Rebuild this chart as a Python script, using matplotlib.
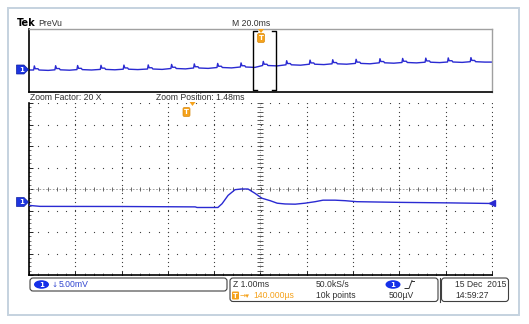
import numpy as np
import matplotlib
matplotlib.use('Agg')
import matplotlib.pyplot as plt
from matplotlib.patches import Rectangle, FancyBboxPatch, Ellipse, Polygon

W, H = 529, 324

# zoomed window : 1.00 ms/div, 5.00 mV/div, values in mV above the ch1 ground
zoom_t = [-5.0, -4.76, -3.03, -1.41, -1.37, -0.92, -0.83, -0.70, -0.55, -0.42,
          -0.27, -0.12, 0.03, 0.21, 0.36, 0.53, 0.75, 0.96, 1.18, 1.35,
          1.61, 1.83, 2.08, 3.01, 4.09, 5.0]
zoom_mv = [-0.86, -1.09, -1.12, -1.21, -1.35, -1.35, -0.47, 1.47, 2.79, 2.95,
           2.95, 1.95, 0.81, 0.23, -0.35, -0.53, -0.58, -0.35, 0.0, 0.35,
           0.35, 0.23, 0.0, -0.16, -0.28, -0.42]
zoom_gnd_div = -0.59   # ch1 ground marker, divisions from centre

# preview record : 20.0 ms/div over 200 ms, mV from screen centre
prevu_spike_t = [2.3, 11.5, 21.0, 31.1, 41.0, 51.5, 61.6, 71.4, 81.5, 91.6,
                 101.2, 111.3, 121.4, 131.2, 141.3, 151.6, 161.4, 171.4, 181.1, 190.9]
prevu_base_mv = [-6.03, -5.91, -5.78, -5.65, -5.52, -5.40, -5.08, -4.76, -4.45, -4.13,
                 -3.18, -2.73, -2.35, -2.10, -1.84, -1.46, -1.27, -1.08, -0.95, -0.76]
# shape of one mains pulse (ms, mV)
pulse_dt = [-0.3, 0.0, 0.4, 1.6, 2.0, 6.0]
pulse_dv = [0.0, 2.6, 0.8, 0.8, 0.0, -0.25]

BLUE = '#2a2ad2'
ORANGE = '#f5a21b'
TXT = '#303030'
FONT = 'Liberation Sans'
FS = 6.2


def px_axes(fig, x0, y0, x1, y1):
    return fig.add_axes([x0 / W, 1 - y1 / H, (x1 - x0) / W, (y1 - y0) / H])


fig = plt.figure(figsize=(W / 100, H / 100), dpi=100)
fig.patch.set_facecolor('white')

# ---- preview panel
axp = px_axes(fig, 29, 29, 492, 92)
pt, pv = [0.0], [prevu_base_mv[0]]
for ts, b in zip(prevu_spike_t, prevu_base_mv):
    pt += [ts + d for d in pulse_dt]
    pv += [b + d for d in pulse_dv]
pt.append(200.0)
pv.append(prevu_base_mv[-1] - 0.25)
axp.plot(pt, pv, color=BLUE, lw=1.0)
axp.set_xlim(0, 200)
axp.set_ylim(-20, 20)
axp.set_xticks([])
axp.set_yticks([])
for s in ['left', 'bottom']:
    axp.spines[s].set_color('black')
    axp.spines[s].set_linewidth(1.2)
for s in ['top', 'right']:
    axp.spines[s].set_color('#a0a0a0')
    axp.spines[s].set_linewidth(1.0)

# ---- main graticule (division units)
axg = px_axes(fig, 29, 103, 492, 275)
axg.set_xlim(-5, 5)
axg.set_ylim(-4, 4)
xs = np.arange(-5, 5.01, 0.2)
ys = np.arange(-4, 4.01, 0.2)
for j in range(-4, 5):
    if j != 0:
        axg.plot(xs, np.full_like(xs, j), ls='none', marker='s', ms=0.8,
                 color='#404040', mec='none')
for i in range(-5, 6):
    if i != 0:
        axg.plot(np.full_like(ys, i), ys, ls='none', marker='s', ms=0.8,
                 color='#404040', mec='none')
axg.axhline(0, color='#909090', lw=0.6, ls=(0, (2, 2)))
axg.plot(xs, np.zeros_like(xs), ls='none', marker='|', ms=3, mew=0.6, color='#505050')
axg.axvline(0, color='#909090', lw=0.6, ls=(0, (1, 2)))
axg.plot(np.zeros_like(ys), ys, ls='none', marker='_', ms=4, mew=0.6, color='#404040')
axg.set_xticks(range(-5, 6))
axg.set_yticks(range(-4, 5))
axg.set_xticks(xs, minor=True)
axg.set_yticks(ys, minor=True)
axg.tick_params(which='major', direction='in', length=3, width=0.6,
                labelbottom=False, labelleft=False, color='black')
axg.tick_params(which='minor', direction='in', length=1.5, width=0.5, color='#404040')
for s in ['top', 'right']:
    axg.spines[s].set_visible(False)
for s in ['left', 'bottom']:
    axg.spines[s].set_linewidth(1.2)

# ---- main trace (ms, mV)
axm = px_axes(fig, 29, 103, 492, 275)
axm.patch.set_alpha(0)
yc = -zoom_gnd_div * 5
axm.set_xlim(-5, 5)
axm.set_ylim(yc - 20, yc + 20)
axm.axis('off')
axm.plot(zoom_t, zoom_mv, color=BLUE, lw=1.0)
axm.plot(zoom_t[-1], zoom_mv[-1], marker='<', ms=4, color=BLUE, clip_on=False)

# ---- overlay in pixels for the scope chrome
ov = fig.add_axes([0, 0, 1, 1])
ov.set_xlim(0, W)
ov.set_ylim(H, 0)
ov.axis('off')
ov.patch.set_alpha(0)

ov.add_patch(Rectangle((8, 8), 511, 307, fill=False, ec='#c5d2df', lw=1.4))

ov.text(17, 23.5, 'Tek', fontsize=7, fontweight='bold', family='DejaVu Sans',
        va='center', ha='left', color='black')
ov.text(38, 23.5, 'PreVu', fontsize=FS, family=FONT, va='center', ha='left', color=TXT)
ov.text(232, 23, 'M 20.0ms', fontsize=FS, family=FONT, va='center', ha='left', color=TXT)
ov.text(30, 97.5, 'Zoom Factor: 20 X', fontsize=FS, family=FONT, va='center', ha='left', color=TXT)
ov.text(156, 97.5, 'Zoom Position: 1.48ms', fontsize=FS, family=FONT, va='center', ha='left', color=TXT)

# zoom bracket on preview
ov.plot([257, 253, 253, 257], [31, 31, 90, 90], color='black', lw=1.0)
ov.plot([272, 276, 276, 272], [31, 31, 90, 90], color='black', lw=1.0)


def trig_marker(x, y, tri_x, tri_y):
    ov.add_patch(FancyBboxPatch((x - 3.5, y - 4.5), 7, 9,
                                boxstyle='round,pad=0,rounding_size=1.5',
                                fc=ORANGE, ec='#d88a10', lw=0.5))
    ov.text(x, y + 0.3, 'T', fontsize=5, color='white', fontweight='bold',
            ha='center', va='center', family='DejaVu Sans')
    ov.add_patch(Polygon([(tri_x - 3, tri_y - 2), (tri_x + 3, tri_y - 2), (tri_x, tri_y + 2)],
                         closed=True, fc=ORANGE, ec='none'))


trig_marker(261, 38, 261, 31)
trig_marker(186.5, 112, 192.5, 104)


def gnd_marker(y):
    ov.add_patch(Polygon([(16.5, y - 4.5), (24, y - 4.5), (28.5, y), (24, y + 4.5), (16.5, y + 4.5)],
                         closed=True, fc='#1d35e0', ec='#1020a0', lw=0.5))
    ov.text(21.5, y + 0.3, '1', fontsize=5, color='white', ha='center', va='center',
            fontweight='bold', family='DejaVu Sans')


gnd_marker(69.5)
gnd_marker(202)

# ---- status boxes
for (x0, y0, x1, y1) in [(30, 278, 227, 291), (230, 278, 438, 301.5), (441.5, 278, 508.5, 301.5)]:
    ov.add_patch(FancyBboxPatch((x0, y0), x1 - x0, y1 - y0,
                                boxstyle='round,pad=0,rounding_size=3',
                                fill=False, ec='#404040', lw=0.8))
ov.plot([439.8, 439.8], [278, 301.5], color='#404040', lw=0.8)


def ch_badge(x, y):
    ov.add_patch(Ellipse((x, y), 15, 8.5, fc='#1530e8', ec='none'))
    ov.text(x, y + 0.3, '1', fontsize=5, color='white', ha='center', va='center',
            fontweight='bold', family='DejaVu Sans')


ch_badge(41.5, 284.5)
ch_badge(393, 284.5)
ov.text(51.5, 284.8, '\u2193', fontsize=5.2, family='DejaVu Sans',
        va='center', ha='left', color='#3045d0')
ov.text(58.5, 284.5, '5.00mV', fontsize=FS, family=FONT,
        va='center', ha='left', color='#3045d0')

ov.text(233, 284.5, 'Z 1.00ms', fontsize=FS, family=FONT, va='center', ha='left', color=TXT)
ov.text(316, 284.5, '50.0kS/s', fontsize=FS, family=FONT, va='center', ha='left', color=TXT)
ov.plot([405, 409, 412], [288.5, 288.5, 280.5], color=TXT, lw=0.7)
ov.plot([412, 414], [280.5, 280.5], color=TXT, lw=0.7)
ov.text(455, 284.5, '15 Dec  2015', fontsize=FS, family=FONT, va='center', ha='left', color=TXT)

ov.add_patch(FancyBboxPatch((232, 291.5), 7, 8, boxstyle='round,pad=0,rounding_size=1',
                            fc=ORANGE, ec='none'))
ov.text(235.5, 295.8, 'T', fontsize=4.8, color='white', ha='center', va='center',
        fontweight='bold', family='DejaVu Sans')
ov.text(239.5, 295.8, '\u2192\u25be', fontsize=5.4,
        family='DejaVu Sans', va='center', ha='left', color=ORANGE)
ov.text(253, 295.8, '140.000\u00b5s', fontsize=FS,
        family=FONT, va='center', ha='left', color=ORANGE)
ov.text(316, 295.8, '10k points', fontsize=FS, family=FONT, va='center', ha='left', color=TXT)
ov.text(389, 295.8, '500\u00b5V', fontsize=FS, family=FONT, va='center', ha='left', color=TXT)
ov.text(455, 295.8, '14:59:27', fontsize=FS, family=FONT, va='center', ha='left', color=TXT)

fig.savefig('out.png', dpi=100)
